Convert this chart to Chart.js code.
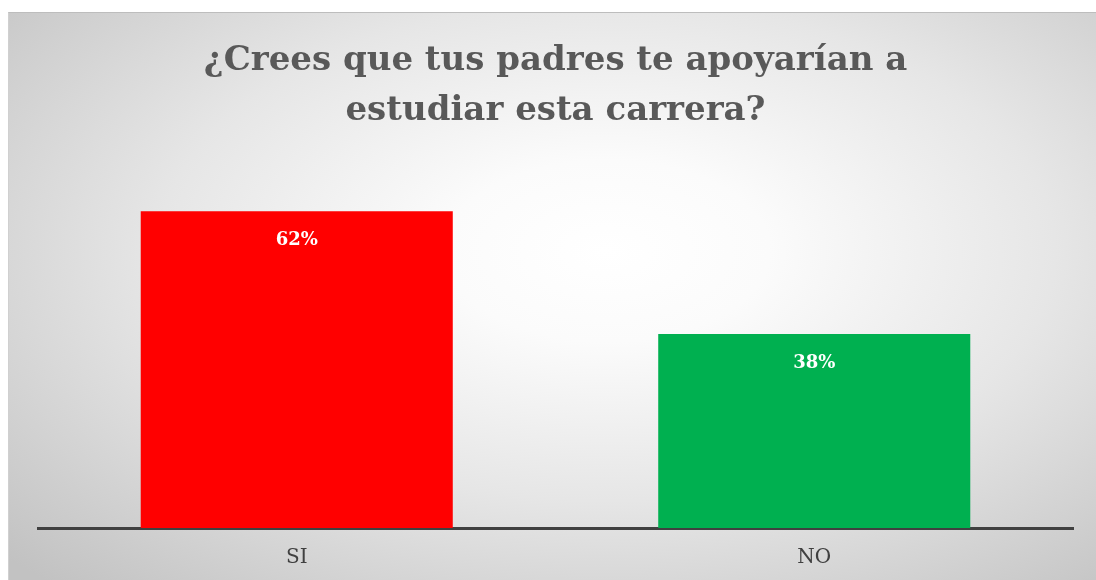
<!DOCTYPE html>
<html>
<head>
<meta charset="utf-8">
<script src="https://cdn.jsdelivr.net/npm/chart.js@4.4.1/dist/chart.umd.min.js"></script>
<style>
  html, body { margin: 0; padding: 0; background: #fff; }
  #wrap { position: relative; width: 1096px; height: 580px; overflow: hidden; }
  #panel {
    position: absolute; left: 8px; top: 12px; right: 0; bottom: 0;
    border-top: 1px solid #bdbdbd; border-left: 1px solid #d0d0d0;
    background: radial-gradient(ellipse 75% 80% at 55% 42%, #ffffff 0%, #fbfbfb 20%, #e6e6e6 55%, #c2c2c2 100%);
  }
  #chart { position: absolute; left: 0; top: 0; }
</style>
</head>
<body>
<div id="wrap">
  <div id="panel"></div>
  <canvas id="chart" width="1096" height="580"></canvas>
</div>
<script>
const categories = ['SI', 'NO'];
const percentages = [62, 38];
const barColors = ['#ff0000', '#00b050'];
const titleLines = ['¿Crees que tus padres te apoyarían a', 'estudiar esta carrera?'];

// writes the percentage inside each bar, just under its top edge
const valueLabels = {
  id: 'valueLabels',
  afterDatasetsDraw(chart) {
    const ctx = chart.ctx;
    const meta = chart.getDatasetMeta(0);
    ctx.save();
    ctx.fillStyle = '#ffffff';
    ctx.font = 'bold 18px "DejaVu Serif"';
    ctx.textAlign = 'center';
    ctx.textBaseline = 'middle';
    meta.data.forEach((bar, i) => {
      ctx.fillText(`${percentages[i]}%`, bar.x, bar.y + 29);
    });
    ctx.restore();
  }
};

const ctx = document.getElementById('chart').getContext('2d');
new Chart(ctx, {
  type: 'bar',
  data: {
    labels: categories,
    datasets: [{
      data: percentages,
      backgroundColor: barColors,
      borderWidth: 0,
      categoryPercentage: 0.603,
      barPercentage: 1,
    }],
  },
  options: {
    responsive: false,
    animation: false,
    layout: {
      padding: { left: 38, right: 23, top: 37, bottom: 0 },
    },
    plugins: {
      legend: { display: false },
      tooltip: { enabled: false },
      title: {
        display: true,
        text: titleLines,
        color: '#595959',
        font: { family: '"DejaVu Serif"', size: 34, weight: 'bold', lineHeight: 1.45 },
        padding: { top: 0, bottom: 40 },
      },
    },
    scales: {
      x: {
        grid: { display: false },
        border: { display: true, color: '#404040', width: 3 },
        ticks: {
          color: '#404040',
          font: { family: '"DejaVu Serif"', size: 20, lineHeight: 1 },
          padding: 12,
        },
      },
      y: {
        display: false,
        min: 0,
        max: 69,
      },
    },
  },
  plugins: [valueLabels],
});
</script>
</body>
</html>
